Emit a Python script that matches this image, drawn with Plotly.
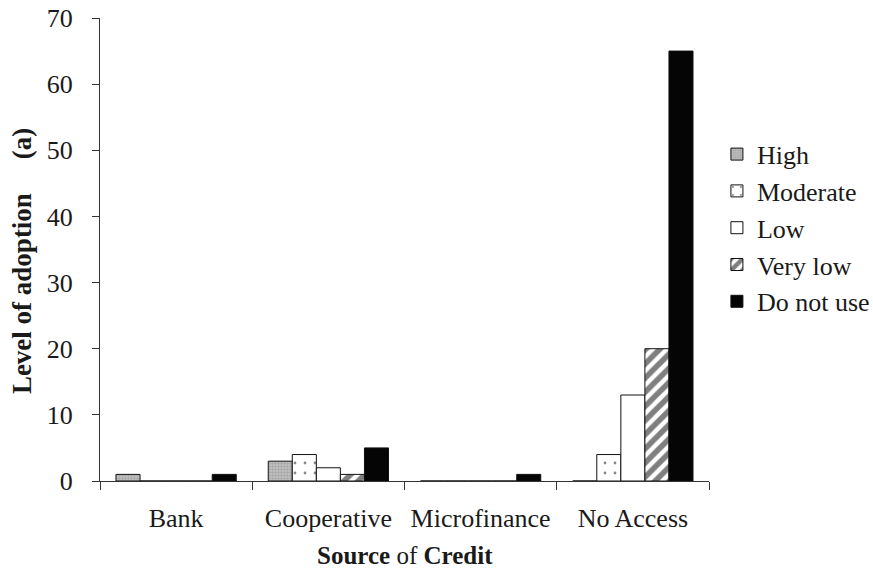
import plotly.graph_objects as go

# Credit sources and adoption levels (percent of respondents)
sources = ["Bank", "Cooperative", "Microfinance", "No Access"]
high = [1, 3, 0, 0]
moderate = [0, 4, 0, 4]
low = [0, 2, 0, 13]
very_low = [0, 1, 0, 20]
do_not_use = [1, 5, 1, 65]

y_ticks = [0, 10, 20, 30, 40, 50, 60, 70]

FONT = "Liberation Serif"
INK = "#1a1a1a"
EDGE = dict(color="#111111", width=1)

series = [
    ("High", high, dict(bgcolor="#c4c4c4", fgcolor="#8a8a8a", shape=".", size=3, solidity=0.5)),
    ("Moderate", moderate, dict(bgcolor="white", fgcolor="#111111", shape=".", size=10, solidity=0.06)),
    ("Low", low, None),
    ("Very low", very_low, dict(bgcolor="white", fgcolor="#000000", shape="/", size=10, solidity=0.55)),
    ("Do not use", do_not_use, "solid"),
]

fig = go.Figure()
for name, vals, pat in series:
    marker = dict(line=EDGE)
    if pat == "solid":
        marker["color"] = "#050505"
    elif pat is None:
        marker["color"] = "white"
    else:
        marker["color"] = pat["bgcolor"]
        marker["pattern"] = dict(shape=pat["shape"], fgcolor=pat["fgcolor"],
                                 bgcolor=pat["bgcolor"], size=pat["size"],
                                 solidity=pat["solidity"], fillmode="overlay")
    fig.add_trace(go.Bar(name=name, x=sources, y=vals, marker=marker))

fig.update_layout(
    width=873, height=582,
    margin=dict(l=100, r=164, t=18, b=101, autoexpand=False),
    paper_bgcolor="white", plot_bgcolor="white",
    barmode="group", bargap=0.21, bargroupgap=0,
    font=dict(family=FONT, size=26, color=INK),
    legend=dict(x=1.013, xanchor="left", y=0.546, yanchor="middle",
                font=dict(family=FONT, size=26, color=INK),
                bgcolor="rgba(0,0,0,0)", tracegroupgap=0),
    showlegend=True,
)

fig.update_xaxes(
    type="category", showline=True, linecolor="#333333", linewidth=1,
    ticks="outside", tickson="boundaries", ticklen=8, tickcolor="#333333",
    ticklabelstandoff=14,
    tickfont=dict(family=FONT, size=26, color=INK),
    showgrid=False, zeroline=False, automargin=False,
)
fig.update_yaxes(
    range=[0, 70], tickvals=y_ticks, showline=True, linecolor="#333333", linewidth=1,
    ticks="outside", ticklen=7, tickcolor="#333333", ticklabelstandoff=14,
    tickfont=dict(family=FONT, size=26, color=INK),
    showgrid=False, zeroline=False, automargin=False,
)

# Axis titles
fig.add_annotation(text="<b>Level of adoption</b>" + "\u00a0" * 5 + "<b>(a)</b>",
                   xref="paper", yref="paper", x=-0.128, y=0.475,
                   xanchor="center", yanchor="middle", textangle=-90,
                   showarrow=False, font=dict(family=FONT, size=27, color=INK))
fig.add_annotation(text="<b>Source</b> of <b>Credit</b>",
                   xref="paper", yref="paper", x=0.5, y=-0.16,
                   xanchor="center", yanchor="middle",
                   showarrow=False, font=dict(family=FONT, size=25, color=INK))

fig.write_html("out.html")
